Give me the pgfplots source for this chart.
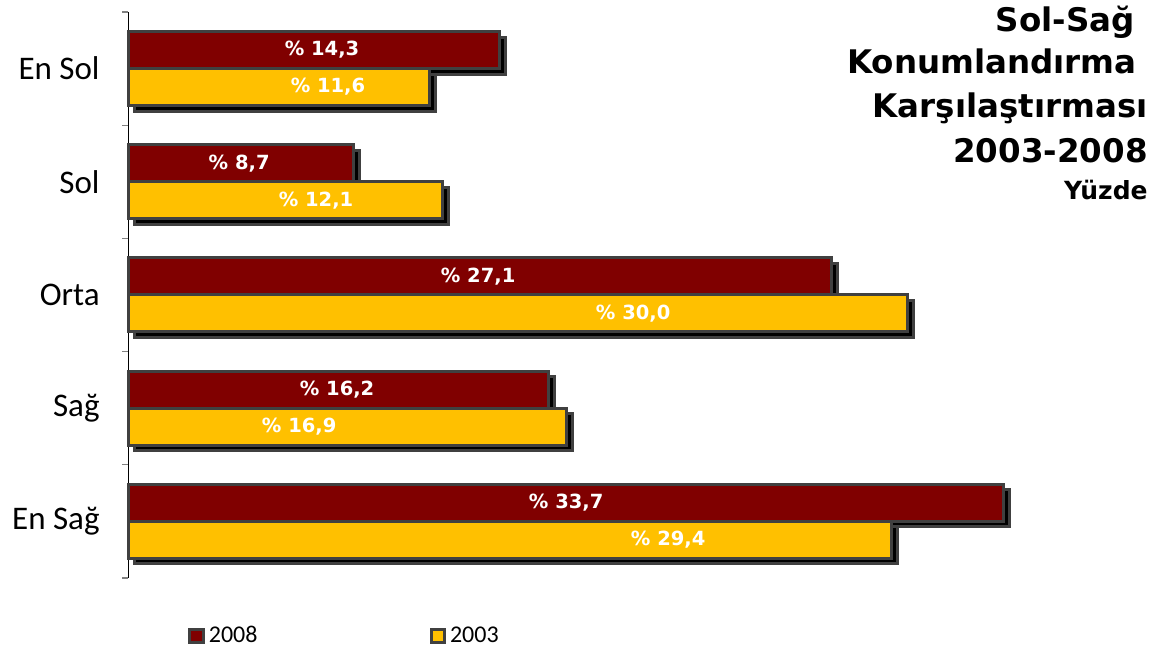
\documentclass[border=0pt]{standalone}
\usepackage{fontspec}
\setmainfont{Carlito}
\newfontfamily\verd{DejaVu Sans}
\usepackage{pgfplots}
\pgfplotsset{compat=1.18}
\usetikzlibrary{shadows}
\definecolor{c2008}{HTML}{800000}
\definecolor{c2003}{HTML}{FFC000}
\definecolor{bord}{HTML}{404040}

\begin{document}
\begin{tikzpicture}[lab/.style={text=white, font=\verd\bfseries\fontsize{9.75}{11}\selectfont}]
\path[use as bounding box] (0,0) rectangle (580pt,326pt);
\begin{axis}[
    at={(64pt,37pt)}, anchor=south west,
    scale only axis, width=454.5pt, height=283pt,
    xmin=0, xmax=35, ymin=-0.5, ymax=4.5,
    axis x line=none, axis y line*=left,
    axis line style={black, line width=0.5pt},
    xbar, bar width=18.5pt,
    ytick={0,1,2,3,4},
    yticklabels={En Sağ,Sağ,Orta,Sol,En Sol},
    yticklabel style={anchor=east, inner sep=0pt, xshift=-14pt, font=\fontsize{16.5}{18}\selectfont},
    major tick length=0pt,
    minor ytick={-0.5,0.5,1.5,2.5,3.5,4.5},
    minor tick length=3pt, tick align=outside,
    minor tick style={gray, line width=0.6pt},
    clip=false,
    legend columns=2,
    legend style={at={(axis description cs:0.066,-0.1025)}, anchor=west,
        draw=none, fill=none, inner sep=0pt,
        font=\fontsize{12}{14}\selectfont,
        /tikz/every even column/.append style={column sep=84pt},
        cells={anchor=west}},
]
% 2008
\addplot[forget plot, fill=c2008, draw=bord, line width=1.5pt, bar shift=9.25pt,
    drop shadow={shadow xshift=3pt, shadow yshift=-2.75pt, opacity=1, fill=black}]
    coordinates {(14.3,4) (8.7,3) (27.1,2) (16.2,1) (33.7,0)};
% 2003
\addplot[forget plot, fill=c2003, draw=bord, line width=1.5pt, bar shift=-9.25pt,
    drop shadow={shadow xshift=3pt, shadow yshift=-2.75pt, opacity=1, fill=black}]
    coordinates {(11.6,4) (12.1,3) (30.0,2) (16.9,1) (29.4,0)};

\addlegendimage{legend image code/.code={\draw[fill=c2008, draw=bord, line width=1.5pt] (0.75pt,-3.25pt) rectangle (7.5pt,3.5pt);}}
\addlegendentry{2008}
\addlegendimage{legend image code/.code={\draw[fill=c2003, draw=bord, line width=1.5pt] (0.75pt,-3.25pt) rectangle (7.5pt,3.5pt);}}
\addlegendentry{2003}

\node[lab] at (axis cs:7.47,4) [yshift=9.25pt] {\% 14,3};
\node[lab] at (axis cs:4.28,3) [yshift=9.25pt] {\% 8,7};
\node[lab] at (axis cs:13.48,2) [yshift=9.25pt] {\% 27,1};
\node[lab] at (axis cs:8.05,1) [yshift=9.25pt] {\% 16,2};
\node[lab] at (axis cs:16.87,0) [yshift=9.25pt] {\% 33,7};
\node[lab] at (axis cs:7.70,4) [yshift=-9.25pt] {\% 11,6};
\node[lab] at (axis cs:7.24,3) [yshift=-9.25pt] {\% 12,1};
\node[lab] at (axis cs:19.45,2) [yshift=-9.25pt] {\% 30,0};
\node[lab] at (axis cs:6.59,1) [yshift=-9.25pt] {\% 16,9};
\node[lab] at (axis cs:20.8,0) [yshift=-9.25pt] {\% 29,4};
\end{axis}
\begin{scope}[every node/.style={anchor=base east, inner sep=0pt}]
\node[font=\verd\bfseries\fontsize{16.25}{18}\selectfont] at (567.5pt,310pt) {Sol-Sağ};
\node[font=\verd\bfseries\fontsize{16.25}{18}\selectfont] at (568.5pt,289pt) {Konumlandırma};
\node[font=\verd\bfseries\fontsize{16.25}{18}\selectfont] at (574pt,267pt) {Karşılaştırması};
\node[font=\verd\bfseries\fontsize{16.25}{18}\selectfont] at (574pt,244.5pt) {2003-2008};
\node[font=\verd\bfseries\fontsize{12.5}{14}\selectfont] at (574pt,226pt) {Yüzde};
\end{scope}
\end{tikzpicture}
\end{document}
